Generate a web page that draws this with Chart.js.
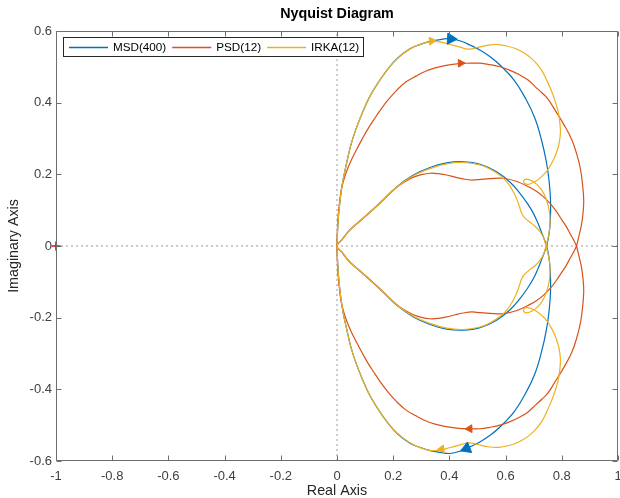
<!DOCTYPE html>
<html><head><meta charset="utf-8">
<script src="https://cdn.jsdelivr.net/npm/chart.js@4.4.1/dist/chart.umd.min.js"></script>
<style>html,body{margin:0;padding:0;background:#fff;}#wrap{width:620px;height:498px;}</style>
</head><body><div id="wrap"><canvas id="c" width="620" height="498"></canvas></div>
<script>
// ---- data (real, imaginary) ----
const seriesNames = ['MSD(400)', 'PSD(12)', 'IRKA(12)'];
const xTickLabels = ['-1','-0.8','-0.6','-0.4','-0.2','0','0.2','0.4','0.6','0.8','1'];
const yTickLabels = ['-0.6','-0.4','-0.2','0','0.2','0.4','0.6'];

const msdUpperOuter = [[0,0],[0.003,0.056],[0.0085,0.11],[0.0196,0.176],[0.0367,0.24],[0.0495,0.282],[0.0665,0.324],[0.09,0.371],[0.116,0.416],[0.146,0.455],[0.178,0.491],[0.215,0.524],[0.261,0.551],[0.295,0.562],[0.331,0.571],[0.367,0.576],[0.402,0.579],[0.44,0.572],[0.475,0.56],[0.51,0.546],[0.545,0.528],[0.58,0.505],[0.63,0.463],[0.672,0.41],[0.705,0.355],[0.728,0.295],[0.745,0.235],[0.755,0.18],[0.76,0.125],[0.759,0.07],[0.754,0.03],[0.746,0]];
const msdLowerInner = [[0.746,0],[0.738,-0.018],[0.728,-0.038],[0.716,-0.062],[0.699,-0.091],[0.678,-0.118],[0.651,-0.147],[0.616,-0.178],[0.568,-0.207],[0.509,-0.228],[0.449,-0.235],[0.39,-0.232],[0.331,-0.219],[0.272,-0.198],[0.212,-0.165],[0.153,-0.12],[0.094,-0.078],[0.046,-0.045],[0.018,-0.018],[0,0]];
const msdUpperInner = [[0,0],[0.018,0.018],[0.046,0.045],[0.094,0.078],[0.153,0.12],[0.212,0.165],[0.272,0.198],[0.331,0.219],[0.39,0.232],[0.449,0.235],[0.509,0.228],[0.568,0.207],[0.616,0.178],[0.651,0.147],[0.678,0.118],[0.699,0.091],[0.716,0.062],[0.728,0.038],[0.738,0.018],[0.746,0]];
const msdLowerOuter = [[0.746,0],[0.754,-0.03],[0.759,-0.07],[0.76,-0.125],[0.755,-0.18],[0.745,-0.235],[0.728,-0.295],[0.705,-0.355],[0.672,-0.41],[0.63,-0.463],[0.58,-0.505],[0.545,-0.528],[0.51,-0.546],[0.475,-0.56],[0.44,-0.572],[0.402,-0.579],[0.367,-0.576],[0.331,-0.571],[0.295,-0.562],[0.261,-0.551],[0.215,-0.524],[0.178,-0.491],[0.146,-0.455],[0.116,-0.416],[0.09,-0.371],[0.0665,-0.324],[0.0495,-0.282],[0.0367,-0.24],[0.0196,-0.176],[0.0085,-0.11],[0.003,-0.056],[0,0]];

const psdUpperOuter = [[0,0],[0.001,0.036],[0.003,0.073],[0.008,0.114],[0.015,0.156],[0.024,0.184],[0.036,0.212],[0.051,0.24],[0.069,0.268],[0.088,0.296],[0.108,0.324],[0.13,0.351],[0.154,0.379],[0.181,0.407],[0.213,0.435],[0.246,0.458],[0.281,0.474],[0.313,0.487],[0.349,0.497],[0.388,0.504],[0.434,0.509],[0.473,0.51],[0.509,0.51],[0.544,0.506],[0.58,0.50],[0.616,0.49],[0.651,0.477],[0.68,0.463],[0.706,0.444],[0.73,0.427],[0.751,0.41],[0.776,0.379],[0.808,0.338],[0.836,0.296],[0.854,0.254],[0.867,0.212],[0.874,0.17],[0.878,0.128],[0.876,0.095],[0.87,0.059],[0.861,0.028],[0.852,0]];
const psdLowerInner = [[0.852,0],[0.842,-0.017],[0.829,-0.035],[0.816,-0.054],[0.80,-0.073],[0.78,-0.097],[0.758,-0.119],[0.735,-0.137],[0.711,-0.152],[0.687,-0.163],[0.64,-0.18],[0.592,-0.189],[0.544,-0.188],[0.51,-0.186],[0.48,-0.184],[0.449,-0.187],[0.42,-0.192],[0.39,-0.198],[0.36,-0.202],[0.331,-0.203],[0.30,-0.199],[0.272,-0.192],[0.245,-0.181],[0.212,-0.163],[0.153,-0.12],[0.094,-0.078],[0.046,-0.045],[0.018,-0.018],[0,0]];
const psdUpperInner = [[0,0],[0.018,0.018],[0.046,0.045],[0.094,0.078],[0.153,0.12],[0.212,0.163],[0.245,0.181],[0.272,0.192],[0.30,0.199],[0.331,0.203],[0.36,0.202],[0.39,0.198],[0.42,0.192],[0.449,0.187],[0.48,0.184],[0.51,0.186],[0.544,0.188],[0.592,0.189],[0.64,0.18],[0.687,0.163],[0.711,0.152],[0.735,0.137],[0.758,0.119],[0.78,0.097],[0.80,0.073],[0.816,0.054],[0.829,0.035],[0.842,0.017],[0.852,0]];
const psdLowerOuter = [[0.852,0],[0.861,-0.028],[0.87,-0.059],[0.876,-0.095],[0.878,-0.128],[0.874,-0.17],[0.867,-0.212],[0.854,-0.254],[0.836,-0.296],[0.808,-0.338],[0.776,-0.379],[0.751,-0.41],[0.73,-0.427],[0.706,-0.444],[0.68,-0.463],[0.651,-0.477],[0.616,-0.49],[0.58,-0.50],[0.544,-0.506],[0.509,-0.51],[0.473,-0.51],[0.434,-0.509],[0.388,-0.504],[0.349,-0.497],[0.313,-0.487],[0.281,-0.474],[0.246,-0.458],[0.213,-0.435],[0.181,-0.407],[0.154,-0.379],[0.13,-0.351],[0.108,-0.324],[0.088,-0.296],[0.069,-0.268],[0.051,-0.24],[0.036,-0.212],[0.024,-0.184],[0.015,-0.156],[0.008,-0.114],[0.003,-0.073],[0.001,-0.036],[0,0]];

const irkaUpperOuter = [[0,0],[0.003,0.056],[0.0085,0.11],[0.0196,0.176],[0.0367,0.24],[0.0495,0.282],[0.0665,0.324],[0.09,0.371],[0.116,0.416],[0.146,0.455],[0.178,0.491],[0.215,0.523],[0.261,0.55],[0.30,0.564],[0.337,0.571],[0.37,0.569],[0.40,0.563],[0.438,0.555],[0.46,0.55],[0.48,0.55],[0.50,0.554],[0.544,0.561],[0.575,0.562],[0.604,0.558],[0.635,0.551],[0.663,0.54],[0.69,0.525],[0.711,0.508],[0.73,0.488],[0.746,0.463],[0.762,0.435],[0.776,0.405],[0.787,0.375],[0.793,0.345],[0.795,0.315],[0.79,0.285],[0.78,0.258],[0.765,0.232],[0.748,0.21],[0.73,0.195],[0.711,0.183],[0.692,0.175],[0.677,0.172],[0.665,0.176],[0.667,0.185],[0.68,0.186],[0.695,0.181],[0.711,0.172],[0.725,0.16],[0.738,0.143],[0.748,0.122],[0.755,0.1],[0.758,0.075],[0.757,0.05],[0.752,0.026],[0.744,0]];
const irkaLowerInner = [[0.744,0],[0.734,-0.025],[0.72,-0.042],[0.705,-0.055],[0.687,-0.066],[0.67,-0.077],[0.658,-0.09],[0.65,-0.108],[0.64,-0.13],[0.625,-0.155],[0.605,-0.178],[0.58,-0.197],[0.544,-0.215],[0.509,-0.226],[0.449,-0.233],[0.39,-0.229],[0.331,-0.216],[0.272,-0.196],[0.212,-0.164],[0.153,-0.12],[0.094,-0.078],[0.046,-0.045],[0.018,-0.018],[0,0]];
const irkaUpperInner = [[0,0],[0.018,0.018],[0.046,0.045],[0.094,0.078],[0.153,0.12],[0.212,0.164],[0.272,0.196],[0.331,0.216],[0.39,0.229],[0.449,0.233],[0.509,0.226],[0.544,0.215],[0.58,0.197],[0.605,0.178],[0.625,0.155],[0.64,0.13],[0.65,0.108],[0.658,0.09],[0.67,0.077],[0.687,0.066],[0.705,0.055],[0.72,0.042],[0.734,0.025],[0.744,0]];
const irkaLowerOuter = [[0.744,0],[0.752,-0.026],[0.757,-0.05],[0.758,-0.075],[0.755,-0.1],[0.748,-0.122],[0.738,-0.143],[0.725,-0.16],[0.711,-0.172],[0.695,-0.181],[0.68,-0.186],[0.667,-0.185],[0.665,-0.176],[0.677,-0.172],[0.692,-0.175],[0.711,-0.183],[0.73,-0.195],[0.748,-0.21],[0.765,-0.232],[0.78,-0.258],[0.79,-0.285],[0.795,-0.315],[0.793,-0.345],[0.787,-0.375],[0.776,-0.405],[0.762,-0.435],[0.746,-0.463],[0.73,-0.488],[0.711,-0.508],[0.69,-0.525],[0.663,-0.54],[0.635,-0.551],[0.604,-0.558],[0.575,-0.562],[0.544,-0.561],[0.50,-0.554],[0.48,-0.55],[0.46,-0.55],[0.438,-0.555],[0.40,-0.563],[0.37,-0.569],[0.337,-0.571],[0.30,-0.564],[0.261,-0.55],[0.215,-0.523],[0.178,-0.491],[0.146,-0.455],[0.116,-0.416],[0.09,-0.371],[0.0665,-0.324],[0.0495,-0.282],[0.0367,-0.24],[0.0196,-0.176],[0.0085,-0.11],[0.003,-0.056],[0,0]];

// direction arrows (upper, lower) and the critical point
const msdArrows = [[0.405,0.578],[0.461,-0.565]];
const psdArrows = [[0.44,0.51],[0.472,-0.51]];
const irkaArrows = [[0.337,0.572],[0.372,-0.567]];
const criticalPoint = [[-1,0]];

// ---- build ----
const FONT = '"Liberation Sans", Arial, Helvetica, sans-serif';
const COLORS = ['#0072BD', '#D95319', '#EDB120'];
const toXY = a => a.map(p => ({x: p[0], y: p[1]}));
function joinPath(...segs) {
  const out = [];
  segs.forEach((s, i) => { (i === 0 ? s : s.slice(1)).forEach(p => out.push({x: p[0], y: p[1]})); });
  return out;
}
const curves = [
  joinPath(msdUpperOuter, msdLowerInner, msdUpperInner, msdLowerOuter),
  joinPath(psdUpperOuter, psdLowerInner, psdUpperInner, psdLowerOuter),
  joinPath(irkaUpperOuter, irkaLowerInner, irkaUpperInner, irkaLowerOuter)
];
const arrowSets = [msdArrows, psdArrows, irkaArrows];
const arrowRot = [[93, -112], [88, -92], [85, -97]];
const arrowSize = [6.5, 4.5, 4.5];
const X_MIN = -1, X_MAX = 1, Y_MIN = -0.6, Y_MAX = 0.6, STEP = 0.2;

const datasets = [];
curves.forEach((c, i) => datasets.push({
  label: seriesNames[i], data: c, showLine: true, borderColor: COLORS[i], backgroundColor: COLORS[i],
  borderWidth: 1.2, pointRadius: 0, tension: 0.4, order: 5 - i, fill: false
}));
arrowSets.forEach((a, i) => datasets.push({
  label: seriesNames[i] + ' dir', data: toXY(a), showLine: false, pointStyle: 'triangle',
  pointRadius: arrowSize[i], pointRotation: arrowRot[i], backgroundColor: COLORS[i], borderColor: COLORS[i],
  borderWidth: 1, order: 0
}));
datasets.push({label: 'zeroH', data: [{x: X_MIN, y: 0}, {x: X_MAX, y: 0}], showLine: true, pointRadius: 0,
  borderColor: '#9a9a9a', borderWidth: 1, borderDash: [2, 3], order: 20});
datasets.push({label: 'zeroV', data: [{x: 0, y: Y_MIN}, {x: 0, y: Y_MAX}], showLine: true, pointRadius: 0,
  borderColor: '#9a9a9a', borderWidth: 1, borderDash: [2, 3], order: 20});
datasets.push({label: 'critical', data: toXY(criticalPoint), pointStyle: 'cross', pointRadius: 4.5,
  borderColor: '#ff0000', backgroundColor: '#ff0000', borderWidth: 1.6, clip: false, order: 0});

const frame = {
  id: 'frame',
  afterDatasetsDraw(chart) {
    const {ctx, chartArea: a, scales: {x, y}} = chart;
    ctx.save();
    ctx.strokeStyle = '#6e6e6e'; ctx.lineWidth = 1;
    const L = Math.round(a.left) + 0.5, R = Math.round(a.right) - 0.5, T = Math.round(a.top) + 0.5, B = Math.round(a.bottom) - 0.5;
    ctx.beginPath();
    ctx.rect(L, T, R - L, B - T);
    const tl = 5;
    for (let i = 0; i < xTickLabels.length; i++) {
      const px = Math.round(x.getPixelForValue(X_MIN + i * STEP)) + 0.5;
      ctx.moveTo(px, B); ctx.lineTo(px, B - tl);
      ctx.moveTo(px, T); ctx.lineTo(px, T + tl);
    }
    for (let i = 0; i < yTickLabels.length; i++) {
      const py = Math.round(y.getPixelForValue(Y_MIN + i * STEP)) + 0.5;
      ctx.moveTo(L, py); ctx.lineTo(L + tl, py);
      ctx.moveTo(R, py); ctx.lineTo(R - tl, py);
    }
    ctx.stroke();
    ctx.restore();
  }
};

const legendBox = {
  id: 'legendBox',
  afterDraw(chart) {
    const {ctx, chartArea: a} = chart;
    ctx.save();
    ctx.font = '11.7px ' + FONT;
    const left = Math.round(a.left) + 7, top = Math.round(a.top) + 6, h = 20;
    let cur = left + 6;
    const items = [];
    seriesNames.forEach((n, i) => {
      const w = ctx.measureText(n).width;
      items.push({n, i, lx: cur, tx: cur + 44});
      cur = cur + 44 + w + 6;
    });
    const right = Math.round(cur - 1);
    ctx.fillStyle = '#ffffff';
    ctx.fillRect(left, top, right - left, h);
    ctx.strokeStyle = '#262626'; ctx.lineWidth = 1;
    ctx.strokeRect(left + 0.5, top + 0.5, right - left - 1, h - 1);
    const my = top + h / 2;
    items.forEach(it => {
      ctx.beginPath();
      ctx.strokeStyle = COLORS[it.i]; ctx.lineWidth = 1.3;
      ctx.moveTo(it.lx, Math.round(my) + 0.5); ctx.lineTo(it.lx + 39, Math.round(my) + 0.5);
      ctx.stroke();
      ctx.fillStyle = '#000'; ctx.textBaseline = 'middle'; ctx.textAlign = 'left';
      ctx.fillText(it.n, it.tx, my + 0.5);
    });
    ctx.restore();
  }
};

new Chart(document.getElementById('c'), {
  type: 'scatter',
  data: {datasets},
  options: {
    responsive: false, animation: false, devicePixelRatio: 1,
    layout: {autoPadding: false, padding: {left: 0, right: 2, top: 0, bottom: 0}},
    plugins: {
      legend: {display: false}, tooltip: {enabled: false},
      title: {display: true, text: 'Nyquist Diagram', fullSize: false, color: '#000',
        font: {family: FONT, size: 14.3, weight: 'bold', lineHeight: 1.2}, padding: {top: 5, bottom: 8.8}}
    },
    scales: {
      x: {type: 'linear', min: X_MIN, max: X_MAX,
        ticks: {stepSize: STEP, autoSkip: false, maxRotation: 0, padding: 7.2, color: '#404040',
          font: {family: FONT, size: 13, lineHeight: 1.2},
          callback: v => xTickLabels[Math.round((v - X_MIN) / STEP)]},
        grid: {display: false, drawTicks: false}, border: {display: false},
        title: {display: true, text: 'Real Axis', color: '#262626', font: {family: FONT, size: 14.3, lineHeight: 1.0}, padding: {top: 0, bottom: 0}},
        afterFit: s => { s.height = 37; s.paddingLeft = 0; s.paddingRight = 0; }
      },
      y: {type: 'linear', min: Y_MIN, max: Y_MAX,
        ticks: {stepSize: STEP, autoSkip: false, padding: 4, color: '#404040',
          font: {family: FONT, size: 13, lineHeight: 1.2},
          callback: v => yTickLabels[Math.round((v - Y_MIN) / STEP)]},
        grid: {display: false, drawTicks: false}, border: {display: false},
        title: {display: true, text: 'Imaginary Axis', color: '#262626', font: {family: FONT, size: 14.3, lineHeight: 1.2}, padding: {top: 5.7, bottom: 0}},
        afterFit: s => { s.width = 56; s.paddingTop = 0; s.paddingBottom = 0; }
      }
    }
  },
  plugins: [frame, legendBox]
});
</script>
</body></html>
